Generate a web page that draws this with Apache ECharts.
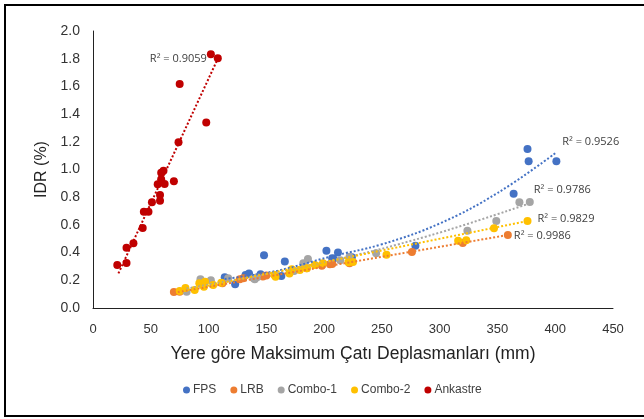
<!DOCTYPE html>
<html><head><meta charset="utf-8">
<script src="https://cdn.jsdelivr.net/npm/echarts@6/dist/echarts.min.js"></script>
<style>html,body{margin:0;padding:0;background:#fff}#c{width:644px;height:419px}</style>
</head><body><div id="c"></div>
<script>
// ---- data ----
const seriesNames = ['FPS', 'LRB', 'Combo-1', 'Combo-2', 'Ankastre'];
const xTicks = [0, 50, 100, 150, 200, 250, 300, 350, 400, 450];
const yTicks = [0, 0.2, 0.4, 0.6, 0.8, 1.0, 1.2, 1.4, 1.6, 1.8, 2.0];

const fpsData = [[114,0.222],[123,0.172],[132,0.238],[135,0.25],[145,0.243],[148,0.38],[163,0.231],[166,0.335],
  [202,0.414],[207,0.36],[208,0.356],[212,0.40],[224,0.366],[279,0.45],[364,0.825],[376,1.148],[377,1.059],[401,1.059]];
const lrbData = [[70,0.115],[75,0.118],[112,0.178],[127,0.207],[130,0.214],[147,0.228],[150,0.235],[185,0.287],
  [198,0.305],[205,0.315],[207,0.318],[222,0.323],[276,0.404],[320,0.47],[359,0.527]];
const combo1Data = [[81,0.118],[93,0.207],[102,0.2],[117,0.214],[139,0.214],[140,0.207],[142,0.222],[174,0.267],
  [182,0.323],[186,0.354],[214,0.345],[222,0.37],[245,0.395],[324,0.558],[349,0.628],[369,0.763],[378,0.765]];
const combo2Data = [[75,0.123],[80,0.145],[88,0.13],[92,0.178],[96,0.154],[97,0.19],[104,0.166],[111,0.183],
  [157,0.238],[158,0.226],[170,0.25],[172,0.279],[179,0.274],[185,0.287],[192,0.31],[199,0.323],[221,0.33],
  [225,0.332],[254,0.385],[316,0.486],[323,0.49],[347,0.575],[376,0.628]];
const ankastreData = [[21,0.31],[29,0.325],[29,0.435],[35,0.467],[43,0.578],[44,0.695],[48,0.695],[51,0.763],
  [58,0.775],[58,0.816],[56,0.893],[59,0.929],[62,0.895],[59,0.977],[61,0.991],[70,0.915],[74,1.196],
  [75,1.617],[98,1.34],[102,1.832],[108,1.803]];

// trend lines
const fpsTrend = [[114,0.21],[160,0.27],[205,0.37],[250,0.46],[300,0.61],[350,0.83],[400,1.117]];
const lrbTrend = [[70,0.11],[359,0.527]];
const combo1Trend = [[81,0.14],[200,0.33],[290,0.52],[378,0.756]];
const combo2Trend = [[75,0.12],[376,0.628]];
const ankastreTrend = [[22,0.25],[108,1.80]];
const r2Labels = ['R² = 0.9526', 'R² = 0.9986', 'R² = 0.9786', 'R² = 0.9829', 'R² = 0.9059'];

const colors = ['#4472C4', '#ED7D31', '#A5A5A5', '#FFC000', '#C00000'];
const scatterSets = [fpsData, lrbData, combo1Data, combo2Data, ankastreData];
const trendSets = [fpsTrend, lrbTrend, combo1Trend, combo2Trend, ankastreTrend];
const trendSmooth = [true, false, true, false, false];
const labelPos = [
  {position:'right', offset:[2,-11]},
  {position:'right', offset:[1,1]},
  {position:'right', offset:[-1,-13]},
  {position:'right', offset:[5,-2]},
  {position:'left', offset:[-6,0]}
];

const FONT = 'Liberation Sans, Arial, sans-serif';
const series = [];
scatterSets.forEach((d, i) => {
  series.push({
    name: seriesNames[i], type: 'scatter', data: d, symbolSize: 8,
    itemStyle: {color: colors[i], opacity: 1}, z: 3, emphasis: {disabled: true}
  });
});
trendSets.forEach((d, i) => {
  const data = d.map((p, k) => k === d.length - 1 ? {
    value: p,
    label: {show: true, formatter: r2Labels[i], position: labelPos[i].position, offset: labelPos[i].offset,
      color: '#404040', fontSize: 11, fontFamily: 'Open Sans, sans-serif'}
  } : p);
  series.push({
    name: seriesNames[i] + ' trend', type: 'line', data: data, smooth: trendSmooth[i] ? 0.4 : false,
    showSymbol: true, symbol: 'circle', symbolSize: 0,
    lineStyle: {color: colors[i], width: 2, type: [2, 2]}, itemStyle: {color: colors[i]},
    z: 4, silent: true, emphasis: {disabled: true}, tooltip: {show: false}
  });
});

const chart = echarts.init(document.getElementById('c'), null, {renderer: 'canvas'});
chart.setOption({
  animation: false,
  backgroundColor: '#fff',
  graphic: [{type: 'rect', shape: {x: 5, y: 5, width: 720, height: 411},
    style: {fill: 'none', stroke: '#000', lineWidth: 2}, silent: true}],
  grid: {left: 93, right: 31, top: 31, bottom: 111},
  legend: {
    data: seriesNames, bottom: 18, left: 178, icon: 'circle', itemWidth: 7, itemHeight: 7, itemGap: 14,
    textStyle: {fontFamily: FONT, fontSize: 12, color: '#404040', padding: [0, 0, 0, -2]}
  },
  xAxis: {
    type: 'value', min: xTicks[0], max: xTicks[xTicks.length - 1], interval: 50,
    name: 'Yere göre Maksimum Çatı Deplasmanları (mm)', nameLocation: 'middle', nameGap: 37,
    nameTextStyle: {fontFamily: FONT, fontSize: 17.5, color: '#222'},
    axisLine: {show: true, lineStyle: {color: '#222', width: 1}},
    axisTick: {show: false}, splitLine: {show: false},
    axisLabel: {fontFamily: FONT, fontSize: 13, color: '#333', margin: 15}
  },
  yAxis: {
    type: 'value', min: yTicks[0], max: yTicks[yTicks.length - 1], interval: 0.2,
    name: 'IDR (%)', nameLocation: 'middle', nameGap: 35, nameRotate: 90,
    nameTextStyle: {fontFamily: FONT, fontSize: 16, color: '#222'},
    axisLine: {show: true, lineStyle: {color: '#222', width: 1}},
    axisTick: {show: false}, splitLine: {show: false},
    axisLabel: {fontFamily: FONT, fontSize: 14, color: '#333', margin: 13, formatter: v => v.toFixed(1)}
  },
  series: series
});
</script></body></html>
